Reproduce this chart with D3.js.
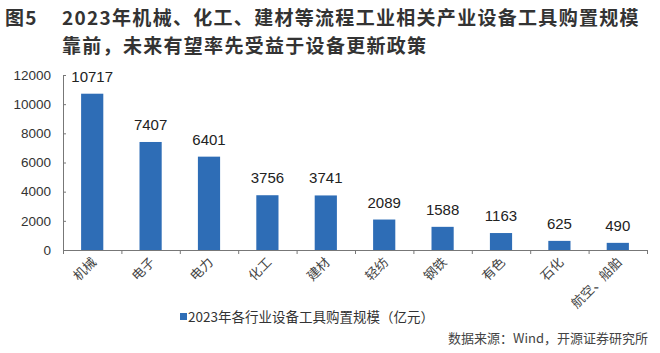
<!DOCTYPE html>
<html>
<head>
<meta charset="utf-8">
<script src="https://cdn.jsdelivr.net/npm/d3@7"></script>
<style>
  body { margin: 0; background: #fff; }
  svg { display: block; }
</style>
</head>
<body>
<div id="chart"></div>
<script>
const industries = ["机械", "电子", "电力", "化工", "建材", "轻纺", "钢铁", "有色", "石化", "航空、船舶"];
const spending = [10717, 7407, 6401, 3756, 3741, 2089, 1588, 1163, 625, 490];
const yTicks = [0, 2000, 4000, 6000, 8000, 10000, 12000];
const titleLines = ["2023年机械、化工、建材等流程工业相关产业设备工具购置规模", "靠前，未来有望率先受益于设备更新政策"];
const legendLabel = "2023年各行业设备工具购置规模（亿元）";
const sourceNote = "数据来源：Wind，开源证券研究所";

const width = 660;
const height = 353;
const margin = { left: 63, right: 13, top: 75, bottom: 103 };
const cjk = "'Noto Sans CJK SC', sans-serif";
const latin = "'Liberation Sans', Arial, sans-serif";
const blue = "#2e6db6";

const svg = d3.select("#chart")
    .append("svg")
    .attr("width", width)
    .attr("height", height);

// Title

const title = svg.append("g")
    .attr("font-family", cjk)
    .attr("font-weight", "bold")
    .attr("font-size", 19)
    .attr("letter-spacing", 1.3)
    .attr("fill", "#333");

title.append("text")
    .attr("x", 5)
    .attr("y", 25)
    .text("图5");

title.selectAll("text.line")
    .data(titleLines)
    .enter()
    .append("text")
    .attr("class", "line")
    .attr("x", 62)
    .attr("y", (d, i) => 25 + i * 27.5)
    .text(d => d);

// Scales

const x = d3.scaleBand()
    .domain(industries)
    .range([margin.left, width - margin.right])
    .paddingInner(0.62)
    .paddingOuter(0.31);

const xEdges = d3.scaleLinear()
    .domain([0, industries.length])
    .range([margin.left, width - margin.right]);

const y = d3.scaleLinear()
    .domain([0, 12000])
    .range([height - margin.bottom, margin.top]);

// Axes

const yAxis = svg.append("g")
    .attr("transform", `translate(${margin.left},0)`)
    .call(d3.axisLeft(y).tickValues(yTicks).tickFormat(d3.format("d")).tickSize(-3).tickSizeOuter(0).tickPadding(12));

yAxis.selectAll("text")
    .attr("font-family", latin)
    .attr("font-size", 13.5)
    .attr("fill", "#333");
yAxis.selectAll("line, path").attr("stroke", "#777");

const xAxis = svg.append("g")
    .attr("transform", `translate(0,${height - margin.bottom})`)
    .call(d3.axisBottom(xEdges).tickValues(d3.range(0, industries.length + 1)).tickSize(4).tickSizeOuter(0).tickFormat(""));
xAxis.selectAll("line, path").attr("stroke", "#777");

svg.append("g")
    .selectAll("text")
    .data(industries)
    .enter()
    .append("text")
    .attr("transform", d => `translate(${x(d) + x.bandwidth() / 2 + 5},${height - margin.bottom + 13}) rotate(-45)`)
    .attr("text-anchor", "end")
    .attr("font-family", cjk)
    .attr("font-size", 13)
    .attr("fill", "#444")
    .text(d => d);

// Bars

svg.append("g")
    .selectAll("rect")
    .data(spending)
    .enter()
    .append("rect")
    .attr("x", (d, i) => x(industries[i]))
    .attr("y", d => y(d))
    .attr("width", x.bandwidth())
    .attr("height", d => y(0) - y(d))
    .attr("fill", blue);

svg.append("g")
    .selectAll("text")
    .data(spending)
    .enter()
    .append("text")
    .attr("x", (d, i) => x(industries[i]) + x.bandwidth() / 2)
    .attr("y", d => y(d) - 12)
    .attr("text-anchor", "middle")
    .attr("font-family", latin)
    .attr("font-size", 15)
    .attr("fill", "#222")
    .text(d => d);

// Legend

const legend = svg.append("g");
legend.append("rect")
    .attr("x", 180)
    .attr("y", 313)
    .attr("width", 7)
    .attr("height", 7)
    .attr("fill", blue);
legend.append("text")
    .attr("x", 188)
    .attr("y", 322)
    .attr("font-family", cjk)
    .attr("font-size", 13.5)
    .attr("fill", "#333")
    .text(legendLabel);

// Source

svg.append("text")
    .attr("x", 648)
    .attr("y", 343)
    .attr("text-anchor", "end")
    .attr("font-family", cjk)
    .attr("font-size", 13)
    .attr("fill", "#444")
    .text(sourceNote);
</script>
</body>
</html>
